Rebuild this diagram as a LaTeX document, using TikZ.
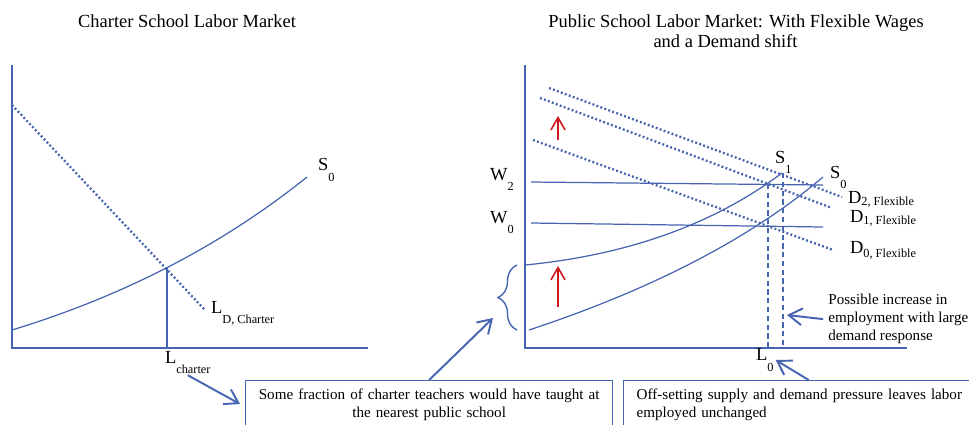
\documentclass[tikz,border=0pt]{standalone}
\usepackage{fontspec}
\setmainfont{Liberation Serif}
\usetikzlibrary{arrows.meta,decorations.pathreplacing}

\definecolor{lineblue}{RGB}{70,100,175}
\definecolor{shiftred}{RGB}{205,25,30}
\newcommand{\lowered}[2][-6.8pt]{\raisebox{#1}{\fontsize{7}{8}\selectfont #2}}

\begin{document}
\begin{tikzpicture}[x=0.02cm,y=-0.02cm,
        axis/.style={draw=lineblue,line width=1.2pt},
        curve/.style={draw=lineblue,line width=0.7pt},
        demand/.style={draw=lineblue,line width=1.3pt,dash pattern=on 1.1pt off 1.3pt},
        guide/.style={draw=lineblue,line width=0.7pt,dash pattern=on 3pt off 2pt},
        callout/.style={draw=lineblue,line width=1.1pt,-{Straight Barb[length=7.5pt,width=9.5pt]}},
        upshift/.style={draw=shiftred,line width=0.9pt,-{Straight Barb[length=7pt,width=8pt]}},
        lbl/.style={anchor=base west,inner sep=1pt,font=\fontsize{10.5}{12}\selectfont},
        title/.style={anchor=base,inner sep=0pt,font=\fontsize{10.5}{11.3}\selectfont},
        note/.style={font=\fontsize{8.6}{10.2}\selectfont},
        notebox/.style={note,draw=lineblue,line width=0.8pt,anchor=north west,
            inner ysep=4.8pt,text depth=40pt}]
        \useasboundingbox (0,0) rectangle (969,424);
        \clip (0,0) rectangle (969,424);

        % charter market
        \node[title] (lefttitle) at (187,27) {Charter School Labor Market};
        \draw[axis] (12,65) -- (12,348) -- (368,348);
        \draw[demand] (12,105) -- (205,310);
        \draw[curve] (12,330) .. controls (123,296) and (221,246) .. (307,177);
        \draw[curve] (167,268) -- (167,348);
        \node[lbl] (szeroleft) at (316,170) {S\lowered{0}};
        \node[lbl] (ldcharter) at (209,313) {L\lowered[-5.7pt]{D, Charter}};
        \node[lbl] (lcharter) at (163,363) {L\lowered[-5.7pt]{charter}};

        % public market
        \node[title,align=center] (righttitle) at (736,47) {Public School Labor Market: With Flexible Wages\\and a Demand shift\hspace*{0.42cm}};
        \draw[axis] (525,65) -- (525,348) -- (907,348);
        \draw[demand] (549,88) -- (842,197);
        \draw[demand] (540,98) -- (832,208);
        \draw[demand] (533,140) -- (833,250);
        \draw[curve] (531,182) -- (823,185);
        \draw[curve] (531,223) -- (823,227);
        \draw[curve] (525,265) .. controls (628,255) and (714,224) .. (782,173);
        \draw[curve] (529,330) .. controls (653,289) and (751,238) .. (823,177);
        \draw[guide] (768,184) -- (768,348);
        \draw[guide] (783,173) -- (783,348);
        \draw[upshift] (558,140) -- (558,116);
        \draw[upshift] (558,307) -- (558,266);
        \draw[draw=lineblue,line width=0.8pt,decorate,decoration={brace,amplitude=0.38cm}] (517,330) -- (517,265);

        \node[lbl] (wtwo) at (488,180) {W\lowered[-6.2pt]{2}};
        \node[lbl] (wzero) at (488,223) {W\lowered[-5.7pt]{0}};
        \node[lbl] (sone) at (773,163) {S\lowered[-5.7pt]{1}};
        \node[lbl] (szero) at (828,178) {S\lowered[-6.2pt]{0}};
        \node[lbl] (dtwo) at (846,203) {D\lowered[-1.7pt]{2, Flexible}};
        \node[lbl] (done) at (848,222) {D\lowered[-1.2pt]{1, Flexible}};
        \node[lbl] (dzero) at (848,253) {D\lowered[-2.3pt]{0, Flexible}};
        \node[lbl] (lzero) at (754,360) {L\lowered{0}};

        \node[note,anchor=north west,inner sep=0pt,align=left] (possible) at (828,294)
            {Possible increase in\\employment with large\\demand response};
        \coordinate (empup) at (787,315);
        \draw[callout] ([xshift=-2.8pt]possible.west) -- (empup);

        % call-out boxes
        \node[notebox,inner xsep=0.17cm,text width=7cm,align=center] (fracbox) at (245,380)
            {Some fraction of charter teachers would have taught at\\the nearest public school};
        \node[notebox,inner xsep=0.26cm,text width=6.88cm,align=left] (offbox) at (623,380)
            {Off-setting supply and demand pressure leaves labor\\employed unchanged};
        \coordinate (fracin) at (240,404);
        \coordinate (bracept) at (493,318);
        \draw[callout] (lcharter.south) -- (fracin);
        \draw[callout] (fracbox.north) -- (bracept);
        \draw[callout] (offbox.north) -- (lzero.east);
    \end{tikzpicture}
\end{document}
